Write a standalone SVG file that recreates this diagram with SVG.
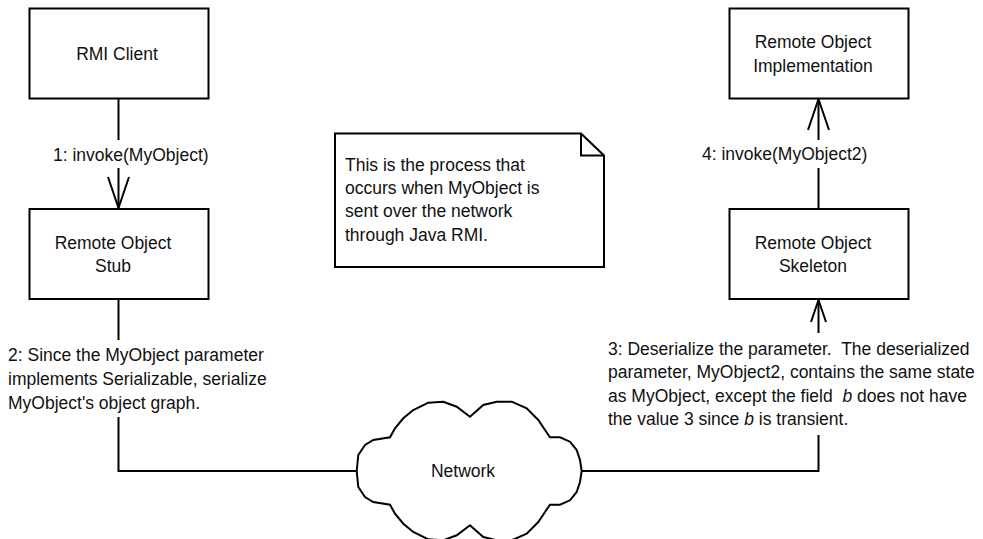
<svg xmlns="http://www.w3.org/2000/svg" width="983" height="539" viewBox="0 0 983 539">
<style>
.box{fill:#fff;stroke:#000;stroke-width:2}
.ln{fill:none;stroke:#000;stroke-width:2}
text{font-family:"Liberation Sans",Arial,sans-serif;font-size:17.5px;fill:#111}
.c{text-anchor:middle}
.pre{white-space:pre}
</style>
<rect width="983" height="539" fill="#fff"/>
<g id="connectors">
  <g id="c1">
    <line class="ln" x1="118.5" y1="98.5" x2="118.5" y2="140"/>
    <line class="ln" x1="118.5" y1="168" x2="118.5" y2="208"/>
    <polyline class="ln" points="108,177 118.5,208 129,177"/>
    <text x="53" y="160.5">1: invoke(MyObject)</text>
  </g>
  <g id="c2">
    <line class="ln" x1="118.5" y1="299" x2="118.5" y2="340"/>
    <polyline class="ln" points="118.5,417 118.5,471 357,471"/>
    <text x="8" y="361">2: Since the MyObject parameter</text>
    <text x="8" y="385">implements Serializable, serialize</text>
    <text x="8" y="409">MyObject's object graph.</text>
  </g>
  <g id="c3">
    <polyline class="ln" points="582,471 818.5,471 818.5,435"/>
    <line class="ln" x1="818.5" y1="333" x2="818.5" y2="300"/>
    <polyline class="ln" points="811,322 818.5,300 826,322"/>
    <text class="pre" x="608" y="354.5" xml:space="preserve">3: Deserialize the parameter.  The deserialized</text>
    <text x="608" y="378">parameter, MyObject2, contains the same state</text>
    <text class="pre" x="608" y="401.5" xml:space="preserve">as MyObject, except the field  <tspan font-style="italic">b</tspan> does not have</text>
    <text x="608" y="425">the value 3 since <tspan font-style="italic">b</tspan> is transient.</text>
  </g>
  <g id="c4">
    <line class="ln" x1="818.5" y1="209" x2="818.5" y2="168"/>
    <line class="ln" x1="818.5" y1="140" x2="818.5" y2="99"/>
    <polyline class="ln" points="808,130 818.5,99 829,130"/>
    <text x="702" y="160">4: invoke(MyObject2)</text>
  </g>
</g>
<g id="rmi-client">
  <rect class="box" x="29.5" y="8.5" width="179" height="90"/>
  <text class="c" x="117" y="59.5">RMI Client</text>
</g>
<g id="stub">
  <rect class="box" x="29.5" y="209" width="179" height="90"/>
  <text class="c" x="113" y="249">Remote Object</text>
  <text class="c" x="113" y="272">Stub</text>
</g>
<g id="implementation">
  <rect class="box" x="729.5" y="8.5" width="179" height="90"/>
  <text class="c" x="813" y="48">Remote Object</text>
  <text class="c" x="813" y="72">Implementation</text>
</g>
<g id="skeleton">
  <rect class="box" x="729.5" y="209" width="179" height="90"/>
  <text class="c" x="813" y="249">Remote Object</text>
  <text class="c" x="813" y="272">Skeleton</text>
</g>
<g id="note">
  <path class="box" d="M335,133.5 H581 L604,155.5 V267 H335 Z"/>
  <path class="ln" d="M581,133.5 V155.5 H604"/>
  <text x="345" y="170.5">This is the process that</text>
  <text x="345" y="194">occurs when MyObject is</text>
  <text x="345" y="217">sent over the network</text>
  <text x="345" y="240.5">through Java RMI.</text>
</g>
<g id="network">
  <polygon class="box" points="356.7,471 358.3,455 365,445 373.3,440 390,437.3 395,428.3 403.3,418.3 413.3,410 428.3,402.7 443.3,401.7 456.7,406.7 470,416.7 483.3,405 496.7,401.7 511.7,401.7 526.7,408.3 538.3,420 545,430 550,437.3 560,437.3 570,441.7 576.7,450 580,460 581.7,471 580,482 576.7,492 570,500.3 560,504.7 550,504.7 545,512 538.3,522 526.7,533.7 511.7,540.3 496.7,540.3 483.3,537 470,525.3 456.7,535.3 443.3,540.3 428.3,539.3 413.3,532 403.3,523.7 395,513.7 390,504.7 373.3,502 365,497 358.3,487"/>
  <text class="c" x="463" y="477">Network</text>
</g>
</svg>
